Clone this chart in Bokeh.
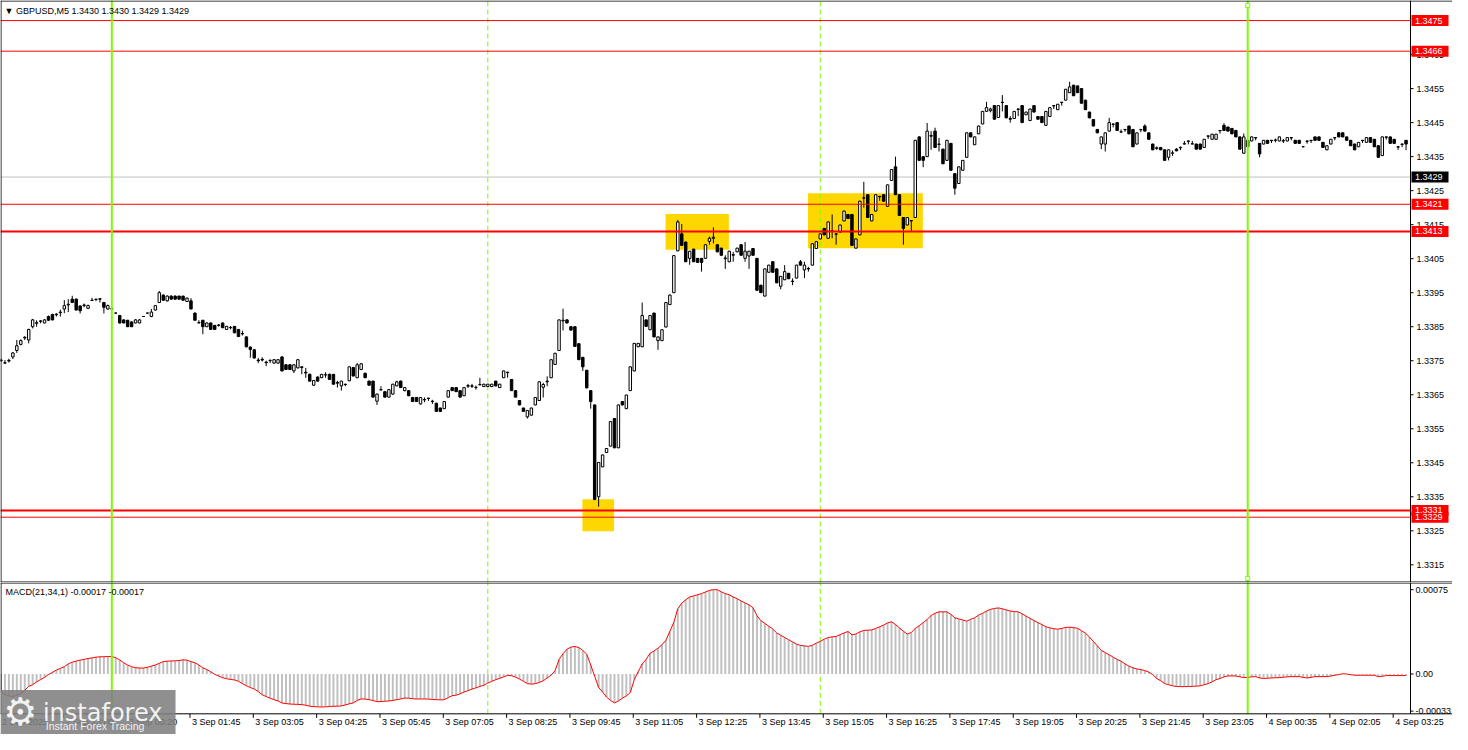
import numpy as np
from bokeh.plotting import figure
from bokeh.models import Range1d, ColumnDataSource
from bokeh.layouts import column
from bokeh.embed import file_html
from bokeh.resources import INLINE
from bokeh.core.properties import value

# ---------------- data: GBPUSD M5 candles (bar index 0..355) ----------------
opens = [
1.33750, 1.33743, 1.33749, 1.33761, 1.33780, 1.33798, 1.33817, 1.33811, 1.33850, 1.33860,
1.33867, 1.33861, 1.33880, 1.33886, 1.33885, 1.33891, 1.33902, 1.33914, 1.33931, 1.33931,
1.33911, 1.33912, 1.33904, 1.33927, 1.33931, 1.33932, 1.33921, 1.33902, 1.33903, 1.33890,
1.33883, 1.33870, 1.33869, 1.33864, 1.33861, 1.33861, 1.33880, 1.33890, 1.33880, 1.33899,
1.33921, 1.33943, 1.33926, 1.33940, 1.33940, 1.33940, 1.33940, 1.33924, 1.33926, 1.33890,
1.33861, 1.33869, 1.33850, 1.33861, 1.33854, 1.33854, 1.33861, 1.33842, 1.33847, 1.33851,
1.33842, 1.33830, 1.33820, 1.33790, 1.33782, 1.33752, 1.33754, 1.33746, 1.33750, 1.33743,
1.33743, 1.33761, 1.33738, 1.33738, 1.33720, 1.33729, 1.33732, 1.33716, 1.33710, 1.33678,
1.33702, 1.33700, 1.33708, 1.33710, 1.33710, 1.33686, 1.33676, 1.33681, 1.33691, 1.33730,
1.33700, 1.33724, 1.33713, 1.33690, 1.33690, 1.33631, 1.33664, 1.33659, 1.33643, 1.33652,
1.33676, 1.33690, 1.33662, 1.33662, 1.33642, 1.33642, 1.33623, 1.33636, 1.33640, 1.33630,
1.33625, 1.33611, 1.33609, 1.33643, 1.33671, 1.33671, 1.33662, 1.33647, 1.33675, 1.33676,
1.33671, 1.33679, 1.33674, 1.33674, 1.33674, 1.33690, 1.33671, 1.33700, 1.33716, 1.33695,
1.33662, 1.33633, 1.33611, 1.33585, 1.33590, 1.33620, 1.33633, 1.33672, 1.33688, 1.33700,
1.33739, 1.33780, 1.33867, 1.33870, 1.33850, 1.33850, 1.33800, 1.33760, 1.33722, 1.33662,
1.33620, 1.33350, 1.33438, 1.33480, 1.33499, 1.33580, 1.33494, 1.33630, 1.33609, 1.33662,
1.33720, 1.33791, 1.33791, 1.33870, 1.33841, 1.33890, 1.33809, 1.33809, 1.33849, 1.33915,
1.33950, 1.34073, 1.34123, 1.34099, 1.34051, 1.34078, 1.34051, 1.34051, 1.34051, 1.34101,
1.34110, 1.34091, 1.34081, 1.34050, 1.34041, 1.34060, 1.34070, 1.34091, 1.34051, 1.34058,
1.34080, 1.34051, 1.33972, 1.33940, 1.34010, 1.34041, 1.34020, 1.33969, 1.33988, 1.34007,
1.33984, 1.33993, 1.34041, 1.34017, 1.34021, 1.34031, 1.34080, 1.34108, 1.34139, 1.34110,
1.34130, 1.34123, 1.34128, 1.34161, 1.34180, 1.34180, 1.34081, 1.34120, 1.34228, 1.34238,
1.34161, 1.34190, 1.34233, 1.34238, 1.34204, 1.34280, 1.34320, 1.34238, 1.34171, 1.34149,
1.34162, 1.34171, 1.34408, 1.34350, 1.34350, 1.34410, 1.34425, 1.34386, 1.34372, 1.34339,
1.34389, 1.34300, 1.34271, 1.34310, 1.34348, 1.34420, 1.34385, 1.34417, 1.34446, 1.34483,
1.34485, 1.34500, 1.34465, 1.34510, 1.34500, 1.34462, 1.34462, 1.34490, 1.34500, 1.34473,
1.34456, 1.34500, 1.34468, 1.34468, 1.34442, 1.34468, 1.34500, 1.34488, 1.34510, 1.34516,
1.34538, 1.34560, 1.34558, 1.34550, 1.34516, 1.34481, 1.34459, 1.34430, 1.34387, 1.34387,
1.34425, 1.34446, 1.34450, 1.34422, 1.34430, 1.34440, 1.34430, 1.34387, 1.34430, 1.34440,
1.34420, 1.34387, 1.34374, 1.34377, 1.34370, 1.34348, 1.34360, 1.34372, 1.34377, 1.34387,
1.34396, 1.34387, 1.34387, 1.34387, 1.34377, 1.34411, 1.34401, 1.34401, 1.34427, 1.34442,
1.34437, 1.34433, 1.34427, 1.34408, 1.34360, 1.34398, 1.34396, 1.34406, 1.34389, 1.34387,
1.34398, 1.34398, 1.34398, 1.34396, 1.34396, 1.34396, 1.34406, 1.34398, 1.34398, 1.34379,
1.34396, 1.34398, 1.34408, 1.34408, 1.34392, 1.34370, 1.34387, 1.34406, 1.34420, 1.34420,
1.34408, 1.34398, 1.34387, 1.34379, 1.34398, 1.34392, 1.34406, 1.34401, 1.34382, 1.34353,
1.34408, 1.34408, 1.34401, 1.34379, 1.34387, 1.34398]

highs = [
1.33756, 1.33752, 1.33756, 1.33775, 1.33811, 1.33813, 1.33822, 1.33844, 1.33873, 1.33869,
1.33869, 1.33872, 1.33883, 1.33888, 1.33890, 1.33900, 1.33928, 1.33931, 1.33941, 1.33933,
1.33913, 1.33918, 1.33915, 1.33935, 1.33932, 1.33933, 1.33923, 1.33915, 1.33905, 1.33892,
1.33885, 1.33872, 1.33870, 1.33866, 1.33872, 1.33872, 1.33881, 1.33891, 1.33902, 1.33914,
1.33955, 1.33945, 1.33942, 1.33942, 1.33942, 1.33941, 1.33941, 1.33936, 1.33934, 1.33892,
1.33869, 1.33870, 1.33862, 1.33862, 1.33855, 1.33858, 1.33862, 1.33852, 1.33852, 1.33852,
1.33843, 1.33838, 1.33822, 1.33792, 1.33784, 1.33758, 1.33760, 1.33750, 1.33754, 1.33755,
1.33755, 1.33764, 1.33740, 1.33740, 1.33740, 1.33755, 1.33734, 1.33729, 1.33712, 1.33693,
1.33704, 1.33711, 1.33716, 1.33712, 1.33711, 1.33691, 1.33691, 1.33682, 1.33733, 1.33732,
1.33743, 1.33743, 1.33715, 1.33692, 1.33691, 1.33653, 1.33675, 1.33660, 1.33666, 1.33682,
1.33691, 1.33692, 1.33672, 1.33663, 1.33643, 1.33643, 1.33643, 1.33642, 1.33641, 1.33635,
1.33626, 1.33612, 1.33631, 1.33663, 1.33672, 1.33672, 1.33663, 1.33672, 1.33682, 1.33682,
1.33677, 1.33700, 1.33682, 1.33682, 1.33682, 1.33691, 1.33682, 1.33721, 1.33718, 1.33696,
1.33663, 1.33634, 1.33612, 1.33605, 1.33612, 1.33643, 1.33689, 1.33685, 1.33704, 1.33754,
1.33773, 1.33871, 1.33903, 1.33872, 1.33852, 1.33851, 1.33801, 1.33761, 1.33723, 1.33663,
1.33621, 1.33452, 1.33474, 1.33493, 1.33572, 1.33581, 1.33621, 1.33631, 1.33650, 1.33733,
1.33802, 1.33802, 1.33921, 1.33871, 1.33884, 1.33891, 1.33821, 1.33842, 1.33922, 1.33945,
1.34060, 1.34164, 1.34152, 1.34100, 1.34073, 1.34079, 1.34052, 1.34052, 1.34092, 1.34115,
1.34142, 1.34092, 1.34082, 1.34060, 1.34073, 1.34070, 1.34082, 1.34092, 1.34099, 1.34073,
1.34081, 1.34052, 1.33973, 1.34021, 1.34032, 1.34042, 1.34021, 1.33999, 1.34031, 1.34008,
1.33992, 1.34032, 1.34046, 1.34041, 1.34026, 1.34095, 1.34101, 1.34124, 1.34140, 1.34159,
1.34180, 1.34124, 1.34150, 1.34191, 1.34181, 1.34181, 1.34109, 1.34220, 1.34276, 1.34239,
1.34181, 1.34239, 1.34235, 1.34239, 1.34268, 1.34313, 1.34350, 1.34239, 1.34172, 1.34172,
1.34163, 1.34399, 1.34410, 1.34351, 1.34449, 1.34425, 1.34435, 1.34405, 1.34373, 1.34399,
1.34390, 1.34301, 1.34321, 1.34340, 1.34421, 1.34421, 1.34409, 1.34441, 1.34484, 1.34511,
1.34494, 1.34501, 1.34501, 1.34531, 1.34501, 1.34469, 1.34484, 1.34492, 1.34501, 1.34482,
1.34491, 1.34501, 1.34469, 1.34469, 1.34484, 1.34495, 1.34501, 1.34505, 1.34511, 1.34549,
1.34570, 1.34561, 1.34559, 1.34551, 1.34517, 1.34482, 1.34460, 1.34431, 1.34409, 1.34421,
1.34464, 1.34447, 1.34451, 1.34430, 1.34431, 1.34441, 1.34431, 1.34421, 1.34431, 1.34445,
1.34421, 1.34388, 1.34380, 1.34378, 1.34371, 1.34371, 1.34368, 1.34375, 1.34380, 1.34396,
1.34397, 1.34396, 1.34388, 1.34388, 1.34402, 1.34412, 1.34417, 1.34417, 1.34428, 1.34448,
1.34438, 1.34434, 1.34428, 1.34409, 1.34418, 1.34399, 1.34409, 1.34407, 1.34390, 1.34399,
1.34399, 1.34399, 1.34403, 1.34409, 1.34402, 1.34407, 1.34407, 1.34399, 1.34399, 1.34380,
1.34397, 1.34399, 1.34409, 1.34409, 1.34393, 1.34383, 1.34402, 1.34407, 1.34421, 1.34421,
1.34409, 1.34399, 1.34388, 1.34393, 1.34399, 1.34407, 1.34407, 1.34402, 1.34383, 1.34409,
1.34409, 1.34409, 1.34402, 1.34380, 1.34388, 1.34399]

lows = [
1.33747, 1.33741, 1.33745, 1.33755, 1.33773, 1.33795, 1.33811, 1.33801, 1.33845, 1.33850,
1.33860, 1.33860, 1.33867, 1.33869, 1.33880, 1.33880, 1.33890, 1.33893, 1.33920, 1.33898,
1.33889, 1.33907, 1.33902, 1.33926, 1.33925, 1.33921, 1.33889, 1.33900, 1.33901, 1.33889,
1.33859, 1.33860, 1.33849, 1.33849, 1.33860, 1.33860, 1.33879, 1.33889, 1.33878, 1.33898,
1.33920, 1.33926, 1.33924, 1.33930, 1.33930, 1.33930, 1.33927, 1.33923, 1.33901, 1.33868,
1.33860, 1.33828, 1.33849, 1.33841, 1.33841, 1.33850, 1.33846, 1.33841, 1.33842, 1.33831,
1.33820, 1.33824, 1.33789, 1.33759, 1.33756, 1.33743, 1.33748, 1.33734, 1.33743, 1.33741,
1.33741, 1.33719, 1.33723, 1.33723, 1.33714, 1.33727, 1.33710, 1.33700, 1.33689, 1.33676,
1.33689, 1.33699, 1.33700, 1.33694, 1.33680, 1.33671, 1.33662, 1.33675, 1.33690, 1.33704,
1.33699, 1.33723, 1.33699, 1.33677, 1.33642, 1.33620, 1.33663, 1.33642, 1.33642, 1.33650,
1.33675, 1.33670, 1.33660, 1.33646, 1.33629, 1.33629, 1.33621, 1.33628, 1.33632, 1.33623,
1.33600, 1.33600, 1.33608, 1.33642, 1.33661, 1.33658, 1.33642, 1.33646, 1.33670, 1.33670,
1.33665, 1.33678, 1.33673, 1.33673, 1.33673, 1.33675, 1.33670, 1.33699, 1.33700, 1.33661,
1.33642, 1.33619, 1.33600, 1.33580, 1.33589, 1.33619, 1.33632, 1.33642, 1.33675, 1.33699,
1.33738, 1.33779, 1.33839, 1.33860, 1.33839, 1.33791, 1.33752, 1.33720, 1.33669, 1.33609,
1.33340, 1.33321, 1.33437, 1.33479, 1.33498, 1.33493, 1.33493, 1.33619, 1.33608, 1.33661,
1.33719, 1.33790, 1.33790, 1.33850, 1.33840, 1.33819, 1.33782, 1.33808, 1.33848, 1.33914,
1.33949, 1.34072, 1.34088, 1.34040, 1.34032, 1.34040, 1.34038, 1.34012, 1.34050, 1.34091,
1.34095, 1.34069, 1.34059, 1.34020, 1.34040, 1.34041, 1.34069, 1.34059, 1.34041, 1.34020,
1.34059, 1.33956, 1.33949, 1.33939, 1.34009, 1.34009, 1.33978, 1.33960, 1.33987, 1.33990,
1.33972, 1.33992, 1.34030, 1.33993, 1.34012, 1.34030, 1.34079, 1.34107, 1.34119, 1.34109,
1.34110, 1.34091, 1.34127, 1.34160, 1.34167, 1.34088, 1.34080, 1.34119, 1.34200, 1.34170,
1.34160, 1.34189, 1.34220, 1.34218, 1.34203, 1.34279, 1.34237, 1.34176, 1.34091, 1.34148,
1.34130, 1.34170, 1.34338, 1.34319, 1.34349, 1.34370, 1.34376, 1.34365, 1.34328, 1.34338,
1.34309, 1.34238, 1.34270, 1.34309, 1.34347, 1.34407, 1.34384, 1.34416, 1.34445, 1.34482,
1.34480, 1.34459, 1.34464, 1.34483, 1.34463, 1.34450, 1.34461, 1.34469, 1.34449, 1.34472,
1.34455, 1.34480, 1.34459, 1.34449, 1.34441, 1.34467, 1.34490, 1.34487, 1.34500, 1.34515,
1.34537, 1.34528, 1.34537, 1.34506, 1.34487, 1.34463, 1.34439, 1.34419, 1.34372, 1.34365,
1.34424, 1.34436, 1.34426, 1.34421, 1.34423, 1.34416, 1.34378, 1.34386, 1.34422, 1.34424,
1.34400, 1.34369, 1.34370, 1.34369, 1.34338, 1.34339, 1.34352, 1.34366, 1.34369, 1.34386,
1.34386, 1.34386, 1.34371, 1.34371, 1.34376, 1.34402, 1.34400, 1.34400, 1.34418, 1.34426,
1.34424, 1.34416, 1.34407, 1.34371, 1.34359, 1.34378, 1.34395, 1.34398, 1.34348, 1.34386,
1.34388, 1.34390, 1.34392, 1.34395, 1.34390, 1.34395, 1.34398, 1.34388, 1.34388, 1.34378,
1.34388, 1.34390, 1.34397, 1.34397, 1.34376, 1.34369, 1.34386, 1.34398, 1.34407, 1.34407,
1.34397, 1.34381, 1.34369, 1.34378, 1.34390, 1.34391, 1.34391, 1.34378, 1.34347, 1.34352,
1.34400, 1.34388, 1.34388, 1.34370, 1.34378, 1.34369]

closes = [
1.33752, 1.33744, 1.33751, 1.33773, 1.33794, 1.33809, 1.33819, 1.33842, 1.33870, 1.33862,
1.33866, 1.33870, 1.33869, 1.33870, 1.33887, 1.33893, 1.33912, 1.33916, 1.33921, 1.33899,
1.33897, 1.33914, 1.33912, 1.33928, 1.33930, 1.33931, 1.33907, 1.33912, 1.33902, 1.33890,
1.33861, 1.33861, 1.33850, 1.33850, 1.33870, 1.33870, 1.33880, 1.33890, 1.33893, 1.33912,
1.33950, 1.33928, 1.33940, 1.33931, 1.33931, 1.33931, 1.33928, 1.33934, 1.33902, 1.33869,
1.33862, 1.33850, 1.33861, 1.33842, 1.33842, 1.33855, 1.33847, 1.33851, 1.33848, 1.33832,
1.33821, 1.33829, 1.33791, 1.33783, 1.33758, 1.33750, 1.33752, 1.33744, 1.33751, 1.33753,
1.33753, 1.33720, 1.33724, 1.33724, 1.33738, 1.33753, 1.33730, 1.33714, 1.33690, 1.33692,
1.33690, 1.33710, 1.33709, 1.33695, 1.33681, 1.33684, 1.33690, 1.33680, 1.33732, 1.33705,
1.33738, 1.33741, 1.33700, 1.33678, 1.33643, 1.33652, 1.33665, 1.33643, 1.33665, 1.33681,
1.33688, 1.33671, 1.33671, 1.33647, 1.33630, 1.33630, 1.33642, 1.33635, 1.33639, 1.33631,
1.33601, 1.33601, 1.33630, 1.33662, 1.33662, 1.33659, 1.33643, 1.33671, 1.33677, 1.33675,
1.33672, 1.33680, 1.33681, 1.33681, 1.33681, 1.33676, 1.33681, 1.33720, 1.33715, 1.33662,
1.33643, 1.33620, 1.33601, 1.33604, 1.33611, 1.33642, 1.33688, 1.33680, 1.33690, 1.33753,
1.33772, 1.33870, 1.33869, 1.33861, 1.33840, 1.33792, 1.33753, 1.33732, 1.33670, 1.33630,
1.33342, 1.33451, 1.33473, 1.33492, 1.33571, 1.33494, 1.33620, 1.33620, 1.33649, 1.33732,
1.33801, 1.33801, 1.33883, 1.33851, 1.33883, 1.33820, 1.33820, 1.33841, 1.33921, 1.33943,
1.34059, 1.34158, 1.34089, 1.34041, 1.34072, 1.34041, 1.34039, 1.34039, 1.34091, 1.34110,
1.34113, 1.34070, 1.34060, 1.34052, 1.34072, 1.34062, 1.34081, 1.34060, 1.34072, 1.34072,
1.34060, 1.33957, 1.33950, 1.34020, 1.34031, 1.34010, 1.33979, 1.33998, 1.34012, 1.33991,
1.33983, 1.34031, 1.34031, 1.34031, 1.34020, 1.34094, 1.34100, 1.34123, 1.34120, 1.34158,
1.34132, 1.34122, 1.34149, 1.34190, 1.34168, 1.34089, 1.34108, 1.34219, 1.34229, 1.34171,
1.34180, 1.34238, 1.34232, 1.34219, 1.34267, 1.34312, 1.34238, 1.34177, 1.34139, 1.34171,
1.34161, 1.34398, 1.34339, 1.34339, 1.34425, 1.34412, 1.34377, 1.34387, 1.34329, 1.34398,
1.34310, 1.34257, 1.34320, 1.34339, 1.34420, 1.34408, 1.34408, 1.34440, 1.34483, 1.34494,
1.34490, 1.34460, 1.34500, 1.34509, 1.34464, 1.34460, 1.34483, 1.34489, 1.34450, 1.34481,
1.34490, 1.34481, 1.34460, 1.34450, 1.34483, 1.34494, 1.34499, 1.34504, 1.34509, 1.34548,
1.34555, 1.34529, 1.34538, 1.34507, 1.34488, 1.34464, 1.34440, 1.34420, 1.34408, 1.34420,
1.34450, 1.34445, 1.34427, 1.34423, 1.34429, 1.34417, 1.34379, 1.34420, 1.34429, 1.34425,
1.34401, 1.34370, 1.34376, 1.34370, 1.34339, 1.34370, 1.34361, 1.34367, 1.34376, 1.34388,
1.34395, 1.34388, 1.34372, 1.34372, 1.34401, 1.34410, 1.34416, 1.34416, 1.34426, 1.34427,
1.34425, 1.34417, 1.34408, 1.34372, 1.34408, 1.34379, 1.34408, 1.34405, 1.34358, 1.34398,
1.34389, 1.34397, 1.34399, 1.34408, 1.34397, 1.34406, 1.34405, 1.34389, 1.34389, 1.34379,
1.34395, 1.34397, 1.34398, 1.34398, 1.34377, 1.34382, 1.34401, 1.34405, 1.34408, 1.34408,
1.34398, 1.34382, 1.34370, 1.34392, 1.34397, 1.34406, 1.34392, 1.34379, 1.34348, 1.34408,
1.34407, 1.34389, 1.34389, 1.34378, 1.34386, 1.34387]

# MACD(21,34,1) main line per bar, in points (1 point = 0.00001)
macd_points = [
-16, -18, -19.5, -20, -19, -17.5, -14.5, -11, -9.5, -7,
-5, -3, -0.5, 1.5, 3.5, 5, 6.5, 9, 10.5, 11.5,
12.3, 13, 13.8, 14.3, 15, 15.3, 15.4, 15.5, 15.5, 14.5,
12.5, 10, 8, 6.5, 5.6, 5.3, 5.3, 6, 7, 8,
9.5, 11, 11.4, 11.6, 11.7, 12, 12.6, 12.3, 11, 10,
8, 5.5, 4, 2, -0.3, -1.8, -3.3, -4.2, -4.8, -5.3,
-6.5, -8.5, -10.5, -12, -13.4, -15.5, -18.5, -20, -21.5, -22.8,
-24, -25.8, -26.3, -26.7, -26.9, -27, -27.2, -27.8, -28.6, -29,
-29.2, -29.3, -29.2, -28.9, -28.7, -28.6, -28.4, -27.5, -26.5, -25.7,
-23.5, -22.2, -22.3, -22.8, -23.6, -24.6, -24.5, -24.2, -24, -23.5,
-22.8, -22.2, -21.4, -21.5, -22, -22.2, -22.2, -22.2, -22.3, -22.6,
-22.8, -23, -22.8, -21, -19.3, -18.8, -17.6, -16, -14.8, -13.4,
-12.3, -11, -10, -8, -6.5, -5, -3.8, -2.5, -1.2, -1.5,
-2.8, -4.5, -6.5, -8.5, -9, -8.5, -7.5, -6, -3.5, -1,
3, 13, 18, 22, 24, 24.5, 23.5, 21, 17.5, 8,
-2, -12, -16, -20.5, -23.5, -25.7, -24, -21.5, -19.5, -16.5,
-5, 2, 9, 13, 18.5, 20.5, 23, 26, 30, 38,
46, 58, 63, 66, 68.5, 69.5, 70.5, 71.5, 73, 74.4,
75, 75, 73, 71.5, 70.5, 68.5, 67, 65, 63.2, 61.5,
59, 52, 47.4, 45, 42.5, 40, 36.5, 34.5, 32.5, 30.5,
28.5, 26.5, 25.5, 25, 24.6, 25.5, 27.5, 29, 31, 32.5,
33, 33.4, 35, 36.5, 37.8, 35, 35.5, 37.5, 38.8, 39,
39.2, 40.5, 42, 43.5, 45.5, 46.5, 44, 41, 38, 35.5,
37, 40.5, 43, 45.7, 48.5, 52, 54, 55.3, 55.3, 55.3,
53, 50, 49, 48.1, 47, 48.7, 50, 52.4, 54, 56,
57.5, 58.3, 58.8, 58, 57, 56, 55.5, 55.3, 53.5, 51.5,
49.5, 47.5, 45.7, 44, 42, 41, 40.3, 39.9, 40.5, 41.5,
41.6, 41.2, 40.7, 38.5, 36.3, 33, 29, 25, 21, 19,
17, 15, 13, 11.4, 9, 7, 5.5, 4.5, 4, 3,
1.8, -0.5, -4, -6, -8.5, -9.5, -10.5, -11.1, -11.2, -11.2,
-11.1, -11, -10.8, -10.5, -9.5, -8.5, -7, -5, -4, -2.5,
-1.7, -1.7, -1.7, -2.5, -3.2, -3, -2.5, -2.3, -3.5, -4,
-3.7, -3.5, -3.3, -3.2, -2.8, -2.5, -2.3, -2.3, -2.3, -3,
-3.5, -3, -2.3, -2.3, -2.3, -2.3, -1.8, -1.1, -0.5, 0.2,
0, -0.6, -1.1, -1.1, -1.1, -1.1, -1.1, -1.2, -2.3, -2,
-1.4, -1.4, -1.4, -1.4, -1.4, -1.4]

# horizontal levels (red), bid line, zones, vertical markers
level_prices = [1.3475, 1.3466, 1.3421, 1.3413, 1.3331, 1.3329]
level_widths = [1, 1, 1, 2, 2, 1]
bid_price = 1.3429
zone_left = [146.9, 167.9, 203.9]
zone_right = [154.9, 183.9, 232.9]
zone_bottom = [1.33249, 1.34076, 1.34081]
zone_top = [1.33343, 1.34181, 1.34242]
vline_bars = [28, 315]
grid_bars = [123, 207]

price_ticks = [1.3315, 1.3325, 1.3335, 1.3345, 1.3355, 1.3365, 1.3375, 1.3385,
               1.3395, 1.3405, 1.3415, 1.3425, 1.3435, 1.3445, 1.3455, 1.3465]
macd_ticks = [0.00075, 0.0, -0.00033]
macd_tick_labels = ["0.00075", "0.00", "-0.00033"]
time_label_bars = [-0.25, 15.75, 31.75, 47.75, 63.75, 79.75, 95.75, 111.75, 127.75, 143.75,
                   159.75, 175.75, 191.75, 207.75, 223.75, 239.75, 255.75, 271.75, 287.75,
                   303.75, 319.75, 335.75, 351.75]
time_labels = ["2 Sep 2025", "2 Sep 23:00", "3 Sep 00:20", "3 Sep 01:45", "3 Sep 03:05",
               "3 Sep 04:25", "3 Sep 05:45", "3 Sep 07:05", "3 Sep 08:25", "3 Sep 09:45",
               "3 Sep 11:05", "3 Sep 12:25", "3 Sep 13:45", "3 Sep 15:05", "3 Sep 16:25",
               "3 Sep 17:45", "3 Sep 19:05", "3 Sep 20:25", "3 Sep 21:45", "3 Sep 23:05",
               "4 Sep 00:35", "4 Sep 02:05", "4 Sep 03:25"]
header_text = "\u25BC GBPUSD,M5  1.3430 1.3430 1.3429 1.3429"
macd_text = "MACD(21,34,1) -0.00017 -0.00017"

lens = [len(opens), len(highs), len(lows), len(closes), len(macd_points)]
if len(set(lens)) != 1:
    raise ValueError(str(lens))

# ---------------- layout constants ----------------
FONT = "Liberation Sans"
FS = "9px"
W = 1452
H1, H2 = 582, 152
PXB = 1410 / 356.25             # pixels per bar
AX = 356.125                     # bar coordinate of the price-scale line
XR = (-0.125, -0.125 + W / PXB)
PR = (1.33098, 1.34809)          # main panel price range
MR = (-0.000538, 0.000814)       # MACD panel range (incl. time-label strip)
M_BOTTOM = -0.000354             # MACD window bottom edge
GREEN = "#7CFC00"
RED = "#FF0000"


def bars(px):
    return px / PXB


py1 = (PR[1] - PR[0]) / H1       # price per pixel (main)
py2 = (MR[1] - MR[0]) / H2       # value per pixel (MACD)

n = len(opens)
idx = list(range(n))
up = [i for i in idx if closes[i] >= opens[i]]
dn = [i for i in idx if closes[i] < opens[i]]

wick_src = ColumnDataSource(dict(x=idx, lo=lows, hi=highs))
up_src = ColumnDataSource(dict(x=up, top=[closes[i] for i in up], bottom=[opens[i] for i in up]))
dn_src = ColumnDataSource(dict(x=dn, top=[opens[i] for i in dn], bottom=[closes[i] for i in dn]))
macd_vals = [v * 1e-5 for v in macd_points]
macd_src = ColumnDataSource(dict(x=idx, m=macd_vals))


def base_fig(h, yr):
    f = figure(width=W, height=h, x_range=Range1d(*XR), y_range=Range1d(*yr),
               x_axis_location=None, y_axis_location=None, toolbar_location=None,
               output_backend="svg", min_border_left=0, min_border_right=0,
               min_border_top=0, min_border_bottom=0)
    f.grid.visible = False
    f.outline_line_color = None
    f.background_fill_color = "white"
    f.border_fill_color = "white"
    return f


def txt(f, x, y, t, size=FS, color="black", align="left", baseline="middle", font=FONT):
    f.text(x=x, y=y, text=t, text_font=value(font), text_font_size=value(size),
           text_color=color, text_align=align, text_baseline=baseline)


# ---------------- main price panel ----------------
p1 = base_fig(H1, PR)

p1.quad(left=zone_left, right=zone_right, bottom=zone_bottom, top=zone_top,
        fill_color="#FFD700", line_color=None)
p1.segment(x0=grid_bars, x1=grid_bars, y0=[PR[0]] * 2, y1=[PR[1]] * 2,
           line_color=GREEN, line_width=1, line_dash="5 3")
p1.segment(x0=[XR[0]], x1=[AX], y0=[bid_price], y1=[bid_price], line_color="#C0C0C0", line_width=1)

p1.segment(x0="x", y0="lo", x1="x", y1="hi", source=wick_src, line_color="black", line_width=1)
p1.vbar(x="x", top="top", bottom="bottom", width=0.62, source=up_src,
        fill_color="white", line_color="black", line_width=1)
p1.vbar(x="x", top="top", bottom="bottom", width=0.62, source=dn_src,
        fill_color="black", line_color="black", line_width=1)

for lp, lw in zip(level_prices, level_widths):
    p1.segment(x0=[XR[0]], x1=[AX], y0=[lp], y1=[lp], line_color=RED, line_width=lw)
p1.segment(x0=vline_bars, x1=vline_bars, y0=[PR[0]] * 2, y1=[PR[1]] * 2,
           line_color=GREEN, line_width=2)
p1.scatter(x=[vline_bars[1], vline_bars[1]], y=[PR[1] - 5 * py1, PR[0] + 4 * py1],
           marker="square", size=4, fill_color="white", line_color=GREEN, line_width=1)

# window border and price scale
p1.segment(x0=[XR[0], XR[0], XR[0] + bars(0.5)], x1=[XR[1], XR[1], XR[0] + bars(0.5)],
           y0=[PR[1] - 0.5 * py1, PR[0] + 0.5 * py1, PR[0]],
           y1=[PR[1] - 0.5 * py1, PR[0] + 0.5 * py1, PR[1]], line_color="black", line_width=1)
p1.segment(x0=[AX], x1=[AX], y0=[PR[0]], y1=[PR[1]], line_color="black", line_width=1)
p1.segment(x0=[AX] * len(price_ticks), x1=[AX + bars(3)] * len(price_ticks),
           y0=price_ticks, y1=price_ticks, line_color="black", line_width=1)
txt(p1, [AX + bars(6)] * len(price_ticks), price_ticks, [f"{t:.4f}" for t in price_ticks])

tag_prices = level_prices + [bid_price]
tag_colors = [RED] * len(level_prices) + ["#000000"]
p1.rect(x=[AX + bars(19.5)] * len(tag_prices), y=tag_prices, width=37, height=11,
        width_units="screen", height_units="screen", fill_color=tag_colors, line_color=None)
txt(p1, [AX + bars(4.5)] * len(tag_prices), tag_prices, [f"{t:.4f}" for t in tag_prices],
    color="white")

txt(p1, [XR[0] + bars(4)], [PR[1] - 10 * py1], [header_text])

# ---------------- MACD panel (with time scale strip) ----------------
p2 = base_fig(H2, MR)

p2.segment(x0=grid_bars, x1=grid_bars, y0=[M_BOTTOM] * 2, y1=[MR[1]] * 2,
           line_color=GREEN, line_width=1, line_dash="5 3")
p2.vbar(x="x", top="m", bottom=0, width=0.5, source=macd_src,
        fill_color="#C0C0C0", line_color=None)
p2.line(x="x", y="m", source=macd_src, line_color=RED, line_width=1)
p2.segment(x0=vline_bars, x1=vline_bars, y0=[M_BOTTOM] * 2, y1=[MR[1]] * 2,
           line_color=GREEN, line_width=2)

# window border, value scale
p2.segment(x0=[XR[0], XR[0], XR[0] + bars(0.5)], x1=[XR[1], XR[1], XR[0] + bars(0.5)],
           y0=[MR[1] - 0.5 * py2, M_BOTTOM, M_BOTTOM],
           y1=[MR[1] - 0.5 * py2, M_BOTTOM, MR[1]], line_color="black", line_width=1)
p2.segment(x0=[AX], x1=[AX], y0=[M_BOTTOM], y1=[MR[1]], line_color="black", line_width=1)
p2.segment(x0=[AX] * 3, x1=[AX + bars(3)] * 3, y0=macd_ticks, y1=macd_ticks,
           line_color="black", line_width=1)
txt(p2, [AX + bars(5)] * 3, macd_ticks, macd_tick_labels)

# time scale
tb = [t for t in time_label_bars if t > XR[0]]
p2.segment(x0=tb, x1=tb, y0=[M_BOTTOM] * len(tb), y1=[M_BOTTOM - 4 * py2] * len(tb),
           line_color="black", line_width=1)
txt(p2, [t + bars(2) for t in time_label_bars], [M_BOTTOM - 3.5 * py2] * len(time_label_bars),
    time_labels, baseline="top")

txt(p2, [XR[0] + bars(5)], [MR[1] - 9 * py2], [macd_text])

# watermark logo (bottom-left)
p2.quad(left=[XR[0]], right=[44.1], bottom=[MR[0]], top=[-0.000143],
        fill_color="#7F7F7F", fill_alpha=0.88, line_color=None)
txt(p2, [10.6], [-0.000345], ["instaforex"], size="24px", color="#F2F2F2",
    baseline="alphabetic", font="DejaVu Sans")
txt(p2, [11.3], [-0.000459], ["Instant Forex Tracing"], size="10.5px", color="#F2F2F2")
txt(p2, [4.9], [-0.000336], ["\u2699"], size="38px", color="#F2F2F2", align="center",
    font="DejaVu Sans")

layout = column(p1, p2, spacing=0)
open("out.html", "w").write(file_html(layout, INLINE))
